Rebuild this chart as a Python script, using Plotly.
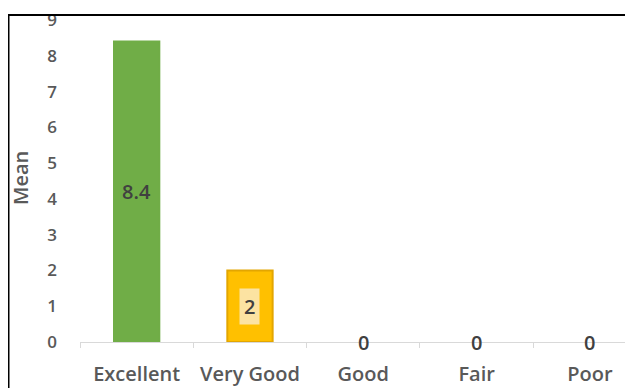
import plotly.graph_objects as go

categories = ["Excellent", "Very Good", "Good", "Fair", "Poor"]
means = [8.4, 2, 0, 0, 0]
bar_colors = ["#70AD47", "#FFC000", "#FFC000", "#FFC000", "#FFC000"]
line_colors = ["#70AD47", "#E3A600", "#E3A600", "#E3A600", "#E3A600"]
label_bg = ["rgba(0,0,0,0)", "#FCE3A2", "rgba(0,0,0,0)", "rgba(0,0,0,0)", "rgba(0,0,0,0)"]
y_ticks = list(range(0, 10))

# page body has an 8px margin: figure spans screen 8..633 x 8..388
OFF = 8
W, H = 633 - OFF, 388 - OFF
ML, MR, MT, MB = 80 - OFF, 0, 20 - OFF, 46
pw, ph = W - ML - MR, H - MT - MB

fig = go.Figure()
fig.add_trace(go.Bar(
    x=categories, y=means, width=0.4,
    marker=dict(color=bar_colors, line=dict(color=line_colors,
                                             width=[2 if v else 0 for v in means])),
    hoverinfo="skip",
))

font_family = "Open Sans, DejaVu Sans, sans-serif"
for c, v, bg in zip(categories, means, label_bg):
    fig.add_annotation(
        x=c, y=v / 2, xref="x", yref="y", text=f"{v:g}", showarrow=False,
        font=dict(family=font_family, size=20, color="#404040", weight=600),
        bgcolor=bg, borderpad=4 if v else 0,
    )

# y axis title (screen x ~20, y ~178)
fig.add_annotation(
    xref="paper", yref="paper", x=(20 - 80) / pw, y=(342 - 178) / ph,
    xanchor="center", yanchor="middle",
    text="Mean", textangle=-90, showarrow=False,
    font=dict(family=font_family, size=20, color="#595959", weight=600),
)

# frame lines (top and left)
top_y = 1 + (20 - 15) / ph
fig.add_shape(type="line", xref="paper", yref="paper",
              x0=-ML / pw, x1=1.0, y0=top_y, y1=top_y,
              line=dict(color="black", width=2), layer="above")
fig.add_shape(type="line", xref="paper", yref="paper",
              x0=(0.5 - ML) / pw, x1=(0.5 - ML) / pw, y0=top_y, y1=-MB / ph,
              line=dict(color="black", width=2), layer="above")
# white mask above frame
fig.add_shape(type="rect", xref="paper", yref="paper",
              x0=-ML / pw, x1=1.0, y0=1 + (20 - 14) / ph, y1=1 + MT / ph,
              line=dict(width=0), fillcolor="white", layer="above")

fig.update_layout(
    width=W, height=H,
    margin=dict(l=ML, r=MR, t=MT, b=MB),
    plot_bgcolor="white", paper_bgcolor="white",
    showlegend=False,
    font=dict(family=font_family, color="#595959"),
    xaxis=dict(
        range=[-0.5, 4.38], showline=True, linecolor="#D9D9D9", linewidth=1,
        ticks="outside", tickson="boundaries", ticklen=5, tickcolor="#D9D9D9",
        tickfont=dict(size=20, color="#595959", weight=600), showgrid=False,
        fixedrange=True, ticklabelstandoff=14, ticklabeloverflow="allow",
    ),
    yaxis=dict(
        range=[0, 9], tickvals=y_ticks, showgrid=False, zeroline=False, showline=False,
        tickfont=dict(size=17, color="#595959", weight=600), ticklabelstandoff=22,
        fixedrange=True, ticklabeloverflow="allow",
    ),
)

fig.write_html("out.html")
